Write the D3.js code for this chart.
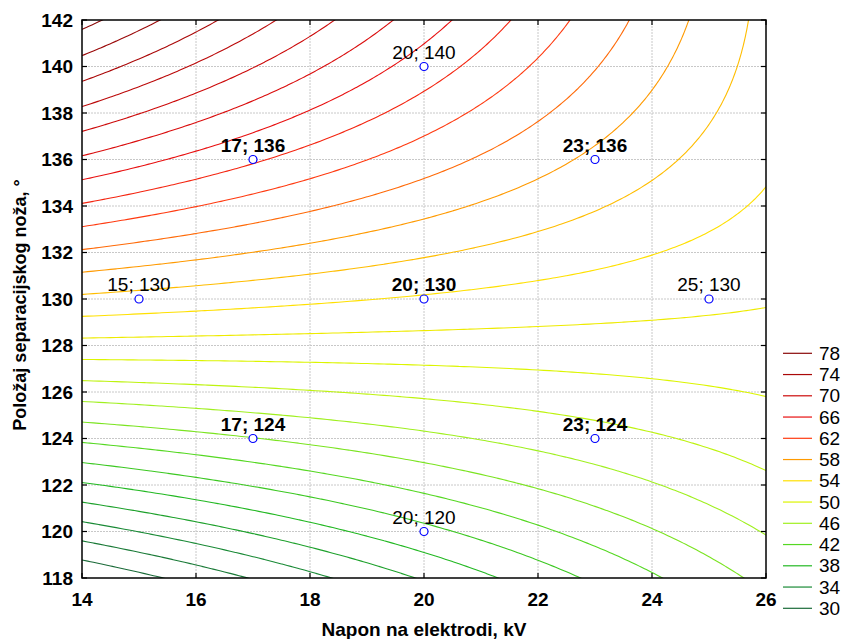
<!DOCTYPE html>
<html>
<head>
<meta charset="utf-8">
<script src="https://cdn.jsdelivr.net/npm/d3@7"></script>
<style>
  html, body { margin: 0; padding: 0; background: #fff; }
  svg { display: block; font-family: "Liberation Sans", Arial, sans-serif; }
</style>
</head>
<body>
<svg id="chart" width="845" height="639"></svg>
<script>
// ---- data ----
const xTicks = [14, 16, 18, 20, 22, 24, 26];
const yTicks = [118, 120, 122, 124, 126, 128, 130, 132, 134, 136, 138, 140, 142];
const levels = [30, 32, 34, 36, 38, 40, 42, 44, 46, 48, 50, 52, 54, 56, 58, 60, 62, 64, 66, 68, 70, 72, 74, 76, 78];
const legendLevels = [78, 74, 70, 66, 62, 58, 54, 50, 46, 42, 38, 34, 30];
// fitted response surface, centred at (20 kV, 130 deg):
// z = c0 + c1*u + c2*v + c11*u^2 + c22*v^2 + c12*u*v, u = x-20, v = y-130
const modelCenter = [20, 130];
const modelCoef = [53.77, -0.285, 1.281, 0.003, -0.0152, -0.138];
// design points
const pointX = [20, 17, 23, 15, 20, 25, 17, 23, 20];
const pointY = [140, 136, 136, 130, 130, 130, 124, 124, 120];
const pointLabels = ["20; 140", "17; 136", "23; 136", "15; 130", "20; 130", "25; 130", "17; 124", "23; 124", "20; 120"];
const pointBold = [false, true, true, false, true, false, true, true, false];
// colour stops for contour levels
const colorLevels = [30, 34, 38, 42, 46, 50, 54, 58, 62, 66, 70, 74, 78];
const colorValues = ["#1a6a38", "#1a8a36", "#22b822", "#55d822", "#a0f020", "#dcf500", "#ffe000", "#ff9a00", "#ff3a10", "#e81010", "#cc0a0a", "#aa0808", "#8a0808"];

// ---- layout ----
const svg = d3.select("#chart");
const W = 845, H = 639;
const L = 82, R = 766, T = 20, B = 578;
svg.append("rect").attr("width", W).attr("height", H).attr("fill", "#fff");

const x = d3.scaleLinear().domain([14, 26]).range([L, R]);
const y = d3.scaleLinear().domain([118, 142]).range([B, T]);
const color = d3.scaleLinear().domain(colorLevels).range(colorValues);

// grid lines
const grid = svg.append("g");
grid.selectAll("line.gx").data(xTicks.slice(1, -1)).join("line")
  .attr("x1", d => x(d)).attr("x2", d => x(d)).attr("y1", T).attr("y2", B)
  .attr("stroke", "#c8c8c8").attr("stroke-width", 1).attr("stroke-dasharray", "2,1");
grid.selectAll("line.gy").data(yTicks.slice(1, -1)).join("line")
  .attr("y1", d => y(d)).attr("y2", d => y(d)).attr("x1", L).attr("x2", R)
  .attr("stroke", "#c8c8c8").attr("stroke-width", 1).attr("stroke-dasharray", "2,1");

// surface grid
const gx0 = 13.5, gy0 = 117, step = 0.1;
const nx = 131, ny = 261;
const vals = new Array(nx * ny);
for (let j = 0; j < ny; j++) {
  for (let i = 0; i < nx; i++) {
    const u = gx0 + i * step - modelCenter[0];
    const v = gy0 + j * step - modelCenter[1];
    const c = modelCoef;
    vals[j * nx + i] = c[0] + c[1] * u + c[2] * v + c[3] * u * u + c[4] * v * v + c[5] * u * v;
  }
}
const contours = d3.contours().size([nx, ny]).thresholds(levels)(vals);
const proj = d3.geoTransform({
  point: function (cx, cy) {
    this.stream.point(x(gx0 + (cx - 0.5) * step), y(gy0 + (cy - 0.5) * step));
  }
});
const path = d3.geoPath(proj);

svg.append("clipPath").attr("id", "plotclip")
  .append("rect").attr("x", L).attr("y", T).attr("width", R - L).attr("height", B - T);

svg.append("g").attr("clip-path", "url(#plotclip)")
  .selectAll("path").data(contours).join("path")
  .attr("d", path)
  .attr("fill", "none")
  .attr("stroke", d => color(d.value))
  .attr("stroke-width", 1.1);

// frame
svg.append("rect").attr("x", L).attr("y", T).attr("width", R - L).attr("height", B - T)
  .attr("fill", "none").attr("stroke", "#000").attr("stroke-width", 1.5);

// ticks (inside, all sides)
const tk = svg.append("g").attr("stroke", "#000").attr("stroke-width", 1.2);
xTicks.forEach(d => {
  tk.append("line").attr("x1", x(d)).attr("x2", x(d)).attr("y1", B).attr("y2", B - 5);
  tk.append("line").attr("x1", x(d)).attr("x2", x(d)).attr("y1", T).attr("y2", T + 5);
});
yTicks.forEach(d => {
  tk.append("line").attr("y1", y(d)).attr("y2", y(d)).attr("x1", L).attr("x2", L + 5);
  tk.append("line").attr("y1", y(d)).attr("y2", y(d)).attr("x1", R).attr("x2", R - 5);
});

// tick labels
svg.append("g").selectAll("text").data(xTicks).join("text")
  .attr("x", d => x(d)).attr("y", 606)
  .attr("text-anchor", "middle").attr("font-size", 19).attr("font-weight", "bold")
  .text(d => d);
svg.append("g").selectAll("text").data(yTicks).join("text")
  .attr("x", 73).attr("y", d => y(d) + 6.5)
  .attr("text-anchor", "end").attr("font-size", 19).attr("font-weight", "bold")
  .text(d => d);

// axis titles
svg.append("text").attr("x", x(20)).attr("y", 636)
  .attr("text-anchor", "middle").attr("font-size", 19).attr("font-weight", "bold")
  .text("Napon na elektrodi, kV");
svg.append("text").attr("transform", `translate(26, ${(T + B) / 2 + 6}) rotate(-90)`)
  .attr("text-anchor", "middle").attr("font-size", 18).attr("font-weight", "bold")
  .text("Položaj separacijskog noža, °");

// design points
const pts = svg.append("g");
pts.selectAll("circle").data(pointX).join("circle")
  .attr("cx", (d, i) => x(d)).attr("cy", (d, i) => y(pointY[i])).attr("r", 4)
  .attr("fill", "#fff").attr("stroke", "#0000ff").attr("stroke-width", 1.2);
pts.selectAll("text").data(pointLabels).join("text")
  .attr("x", (d, i) => x(pointX[i])).attr("y", (d, i) => y(pointY[i]) - 8)
  .attr("text-anchor", "middle").attr("font-size", 19)
  .attr("font-weight", (d, i) => pointBold[i] ? "bold" : "normal")
  .text(d => d);

// legend
const lg = svg.append("g");
legendLevels.forEach((lv, i) => {
  const ly = 353.3 + i * 21.25;
  lg.append("line").attr("x1", 783).attr("x2", 812).attr("y1", ly).attr("y2", ly)
    .attr("stroke", color(lv)).attr("stroke-width", 1.2);
  lg.append("text").attr("x", 819).attr("y", ly + 6.5).attr("font-size", 19).text(lv);
});
</script>
</body>
</html>
